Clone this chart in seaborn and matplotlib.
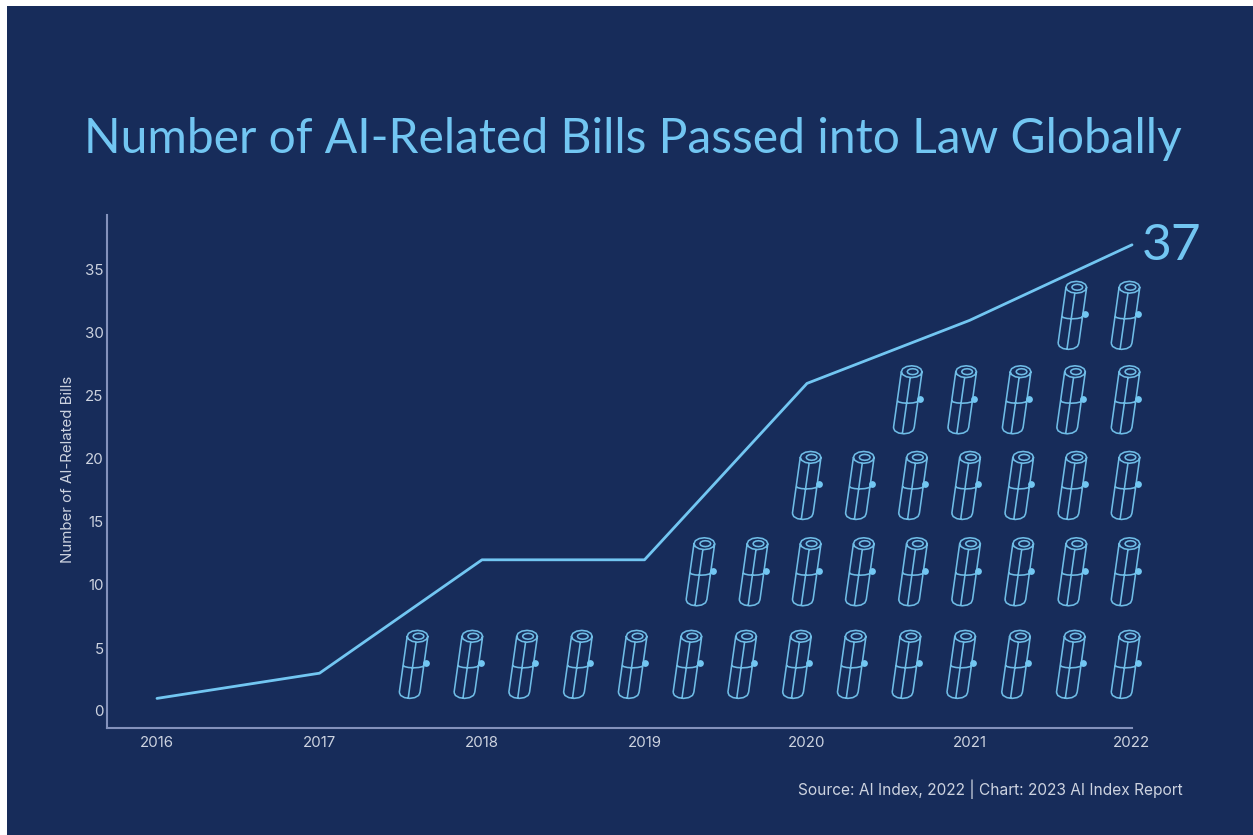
import numpy as np
import pandas as pd
import matplotlib
matplotlib.use("Agg")
import matplotlib.pyplot as plt
from matplotlib.patches import Rectangle
from matplotlib.path import Path
import seaborn as sns

years = [2016, 2017, 2018, 2019, 2020, 2021, 2022]
bills = [1, 3, 12, 12, 26, 31, 37]
y_ticks = [0, 5, 10, 15, 20, 25, 30, 35]

# One scroll per bill, stacked in rows from the bottom up
row_counts = [14, 9, 7, 5, 2]
row_levels = [3.7, 11.05, 17.9, 24.7, 31.4]
row_steps = [0.337, 0.327, 0.327, 0.335, 0.327]
last_column = 2021.96

NAVY = "#172C5A"
SKY = "#72C6F2"
SCROLL = "#6FBCE6"
AXIS = "#8492BC"
PALE = "#CDD3E0"

sns.set_theme(style="white", rc={
    "figure.facecolor": "white",
    "axes.facecolor": NAVY,
    "axes.edgecolor": AXIS,
})
plt.rcParams["font.family"] = ["Inter", "DejaVu Sans"]

W, H = 1253, 835
fig = plt.figure(figsize=(W / 100, H / 100), dpi=100)
fig.add_artist(Rectangle((7 / W, 0), 1 - 7 / W, 1 - 6 / H, transform=fig.transFigure,
                         facecolor=NAVY, edgecolor="none", zorder=-5))
ax = fig.add_axes([107 / W, 1 - 728 / H, (1132 - 107) / W, (728 - 215) / H])
ax.patch.set_alpha(0)


def scroll_glyph():
    """Outline of a rolled, tilted bill: two hexagonal ends, sides, a band and inner ring."""
    verts, codes = [], []

    def poly(points, closed=False):
        for i, p in enumerate(points):
            verts.append(p)
            codes.append(Path.MOVETO if i == 0 else Path.LINETO)
        if closed:
            verts.append(points[0])
            codes.append(Path.CLOSEPOLY)

    t = np.deg2rad(np.arange(0, 360, 30))
    top = (4.0, 28.5)
    bottom = (-4.0, -28.5)
    ring = [(top[0] + 10.5 * np.cos(a), top[1] + 6 * np.sin(a)) for a in t]
    inner = [(top[0] + 1 + 5.5 * np.cos(a), top[1] + 3 * np.sin(a)) for a in t]
    poly(ring, closed=True)
    poly(inner, closed=True)
    # Long sides and the front seam
    poly([(top[0] - 10.5, top[1]), (bottom[0] - 10.5, bottom[1])])
    poly([(top[0] + 10.5, top[1]), (bottom[0] + 10.5, bottom[1])])
    poly([(top[0] - 1.5, top[1] - 6), (bottom[0] - 1.5, bottom[1] - 6)])
    # Lower rim
    arc = np.deg2rad(np.arange(180, 361, 30))
    poly([(bottom[0] + 10.5 * np.cos(a), bottom[1] + 6 * np.sin(a)) for a in arc])
    # Tie around the middle
    poly([(10.5 * np.cos(a), -1 + 2.5 * np.sin(a)) for a in arc])
    return Path(np.array(verts), codes)


rows = []
for count, level, step in zip(row_counts, row_levels, row_steps):
    for i in range(count):
        rows.append({"year": last_column - step * i, "level": level})
scrolls = pd.DataFrame(rows)

sns.scatterplot(data=scrolls, x="year", y="level", marker=scroll_glyph(), s=2400,
                facecolor="none", edgecolor=SCROLL, linewidth=1.15, ax=ax, clip_on=False,
                legend=False, zorder=2)
# The seal sits on the right of each tie
sns.scatterplot(x=scrolls["year"] + 0.075, y=scrolls["level"] + 0.1, marker="o", s=24,
                color=SKY, linewidth=0, ax=ax, clip_on=False, legend=False, zorder=3)

sns.lineplot(x=years, y=bills, color=SKY, linewidth=2.0, errorbar=None, ax=ax,
             clip_on=False, zorder=4)

ax.set_xlim(2016 - 50 / 162.5, 2022)
ax.set_ylim(-17 / 12.6, 496 / 12.6)
ax.set_xticks(years)
ax.set_xticklabels([str(y) for y in years])
ax.set_yticks(y_ticks)
ax.tick_params(axis="both", length=0, colors=PALE, labelsize=10.8)
ax.tick_params(axis="x", pad=6)
ax.tick_params(axis="y", pad=2.5)
ax.set_xlabel("")
ax.set_ylabel("Number of AI-Related Bills", color=PALE, fontsize=10.8)
ax.yaxis.set_label_coords(-0.031, 0.505)

sns.despine(ax=ax)
for side in ("left", "bottom"):
    ax.spines[side].set_linewidth(1.5)
    ax.spines[side].set_color(AXIS)

ax.annotate(str(bills[-1]), xy=(years[-1], bills[-1]), xytext=(7, -1), textcoords="offset points",
            color=SKY, fontsize=37, family="Lato", ha="left", va="center", annotation_clip=False)

fig.text(84 / W, 1 - 153 / H, "Number of AI-Related Bills Passed into Law Globally",
         color=SKY, fontsize=34.6, family="Lato", ha="left", va="baseline")
fig.text(1183 / W, 1 - 789 / H, "Source: AI Index, 2022 | Chart: 2023 AI Index Report",
         color=PALE, fontsize=11.15, ha="right", va="center")

fig.savefig("out.png", dpi=100)
